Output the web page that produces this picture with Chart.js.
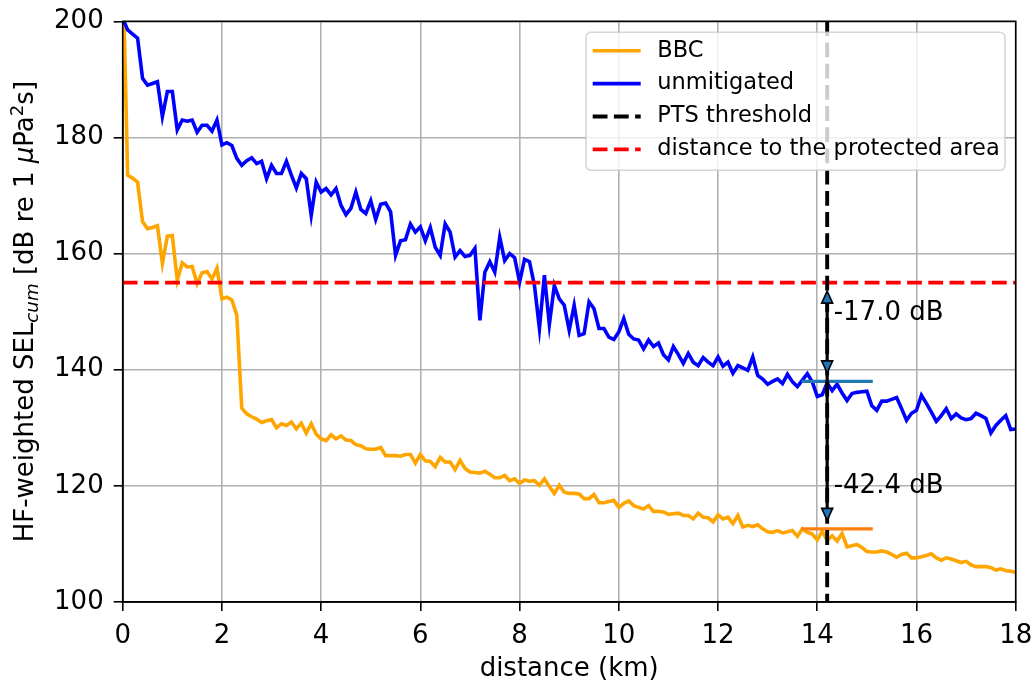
<!DOCTYPE html>
<html><head><meta charset="utf-8">
<script src="https://cdn.jsdelivr.net/npm/chart.js@4.4.1/dist/chart.umd.min.js"></script>
<style>html,body{margin:0;padding:0;background:#fff;} #c{display:block;}</style>
</head><body>
<canvas id="c" width="1034" height="685"></canvas>
<script>
const distanceKm = [
0,0.1,0.2,0.3,0.4,0.5,0.6,0.7,0.8,0.9,
1,1.1,1.2,1.3,1.4,1.5,1.6,1.7,1.8,1.9,
2,2.1,2.2,2.3,2.4,2.5,2.6,2.7,2.8,2.9,
3,3.1,3.2,3.3,3.4,3.5,3.6,3.7,3.8,3.9,
4,4.1,4.2,4.3,4.4,4.5,4.6,4.7,4.8,4.9,
5,5.1,5.2,5.3,5.4,5.5,5.6,5.7,5.8,5.9,
6,6.1,6.2,6.3,6.4,6.5,6.6,6.7,6.8,6.9,
7,7.1,7.2,7.3,7.4,7.5,7.6,7.7,7.8,7.9,
8,8.1,8.2,8.3,8.4,8.5,8.6,8.7,8.8,8.9,
9,9.1,9.2,9.3,9.4,9.5,9.6,9.7,9.8,9.9,
10,10.1,10.2,10.3,10.4,10.5,10.6,10.7,10.8,10.9,
11,11.1,11.2,11.3,11.4,11.5,11.6,11.7,11.8,11.9,
12,12.1,12.2,12.3,12.4,12.5,12.6,12.7,12.8,12.9,
13,13.1,13.2,13.3,13.4,13.5,13.6,13.7,13.8,13.9,
14,14.1,14.2,14.3,14.4,14.5,14.6,14.7,14.8,14.9,
15,15.1,15.2,15.3,15.4,15.5,15.6,15.7,15.8,15.9,
16,16.1,16.2,16.3,16.4,16.5,16.6,16.7,16.8,16.9,
17,17.1,17.2,17.3,17.4,17.5,17.6,17.7,17.8,17.9,
18];

const bbcSEL = [
210,173.5,173.0,172.3,165.5,164.3,164.5,164.8,158.3,163.0,
163.1,155.4,158.4,157.7,157.8,154.8,156.7,156.9,155.6,157.5,
152.2,152.5,152.0,149.4,133.4,132.4,131.9,131.5,130.9,131.2,
131.4,130.0,130.7,130.4,131.0,129.8,130.8,129.1,130.7,128.9,
128.1,127.8,128.8,128.1,128.6,127.9,127.8,127.1,126.9,126.4,
126.3,126.3,126.6,125.2,125.2,125.2,125.1,125.4,125.4,123.9,
125.4,124.3,124.2,123.3,124.9,124.1,124.1,122.8,124.4,123.0,
122.4,122.3,122.2,122.5,122.0,121.4,121.4,121.8,120.9,121.2,
120.4,121.0,120.8,120.9,120.1,121.2,119.9,118.7,120.1,118.9,
118.7,118.7,118.6,117.8,117.8,118.5,117.1,117.1,117.3,117.5,
116.3,117.0,117.4,116.6,116.3,116.0,116.6,115.6,115.6,115.5,
115.1,115.2,115.3,114.9,114.9,114.3,115.3,114.6,114.5,113.8,
115.0,114.3,114.6,113.5,114.9,112.9,113.2,113.0,113.3,112.6,
112.1,112.0,112.3,111.9,112.1,112.3,111.3,112.6,112.0,111.7,
110.7,112.2,110.6,111.4,110.5,111.8,109.5,109.7,109.9,109.4,
108.7,108.6,108.6,108.8,108.6,108.2,107.7,108.2,108.4,107.6,
107.6,107.8,108.0,108.3,107.6,107.2,107.6,107.4,107.1,106.8,
107.0,106.4,106.1,106.1,106.1,105.9,105.5,105.7,105.4,105.3,
105.1];

const unmitigatedSEL = [
200.5,198.5,197.8,197.1,190.2,189.0,189.3,189.6,183.6,187.9,
187.9,181.3,183.0,182.8,183.0,180.9,182.1,182.1,181.1,183.0,
178.7,179.1,178.6,176.4,175.2,176.0,176.5,175.5,175.9,172.9,
175.2,173.8,173.8,175.9,173.5,171.3,173.8,172.9,166.6,172.3,
170.6,171.2,170.1,171.2,168.3,166.7,167.8,170.6,167.6,166.9,
169.1,165.9,168.5,168.7,167.2,159.7,162.2,162.4,165.1,163.7,
164.6,162.2,164.5,161.1,159.7,165.1,163.7,159.4,160.5,159.5,
159.7,160.9,148.5,156.8,158.6,156.8,162.8,158.8,160.0,159.3,
155.1,159.0,158.6,154.5,147.1,156.3,147.8,154.5,152.2,151.1,
146.8,151.1,145.9,146.2,151.7,150.5,147.1,147.1,145.6,145.2,
146.5,148.8,146.1,145.3,145.1,143.6,145.1,144.0,144.6,142.6,
141.7,144.0,142.6,141.1,142.8,141.3,140.7,142.1,141.3,140.7,
142.2,140.6,141.3,139.4,140.7,140.3,139.9,142.2,139.0,138.4,
137.5,138.0,138.4,137.6,139.2,137.9,137.1,138.2,139.3,137.9,
135.4,135.7,137.7,136.4,137.5,136.0,134.7,135.9,136.1,136.2,
136.3,133.8,133.0,134.6,134.6,134.9,135.2,133.3,131.3,132.5,
133.0,135.6,134.2,132.7,131.1,132.1,133.3,131.6,132.4,131.7,
131.4,131.6,132.5,132.1,131.6,129.1,130.4,131.3,132.1,129.7,
129.8];

const xTickValues = [0,2,4,6,8,10,12,14,16,18];
const yTickValues = [100,120,140,160,180,200];
const ptsDistanceKm = 14.2;
const protectedAreaSEL = 155;
const unmitigatedAtPTS = 138.0;
const bbcAtPTS = 112.6;
const markerSpanKm = [13.68, 15.12];
const reductionLabels = ['-17.0 dB', '-42.4 dB'];
const reductionLabelBaseline = [148.5, 118.7];
const legendLabels = ['BBC', 'unmitigated', 'PTS threshold', 'distance to the protected area'];

const FONT = "'DejaVu Sans', sans-serif";
const TICK_PX = 26;
const DASH = [14.8, 6.4];

function pts(xs, ys) { return xs.map((x, i) => ({x: x, y: ys[i]})); }

const datasets = [
  {label: legendLabels[0], data: pts(distanceKm, bbcSEL), borderColor: '#ffa500', borderWidth: 3.6, order: 6},
  {label: legendLabels[1], data: pts(distanceKm, unmitigatedSEL), borderColor: '#0000ff', borderWidth: 3.6, order: 5},
  {label: legendLabels[3], data: [{x: xTickValues[0], y: protectedAreaSEL}, {x: xTickValues[xTickValues.length-1], y: protectedAreaSEL}], borderColor: '#ff0000', borderWidth: 3.9, borderDash: DASH, order: 4},
  {label: 'unmit-mark', data: [{x: markerSpanKm[0], y: unmitigatedAtPTS}, {x: markerSpanKm[1], y: unmitigatedAtPTS}], borderColor: '#1f77b4', borderWidth: 3.2, order: 3},
  {label: 'bbc-mark', data: [{x: markerSpanKm[0], y: bbcAtPTS}, {x: markerSpanKm[1], y: bbcAtPTS}], borderColor: '#ff7f0e', borderWidth: 3.2, order: 2},
  {label: legendLabels[2], data: [{x: ptsDistanceKm, y: yTickValues[yTickValues.length-1]}, {x: ptsDistanceKm, y: yTickValues[0]}], borderColor: '#000000', borderWidth: 3.9, borderDash: DASH, order: 1}
];
datasets.forEach(d => { d.pointRadius = 0; d.tension = 0; d.fill = false; d.clip = 0; d.borderCapStyle = 'butt'; });

function drawHead(ctx, x, tipY, dir) {
  const len = 12, half = 5.5;
  ctx.beginPath();
  ctx.moveTo(x, tipY);
  ctx.lineTo(x - half, tipY - dir * len);
  ctx.lineTo(x + half, tipY - dir * len);
  ctx.closePath();
  ctx.fillStyle = '#1f77b4';
  ctx.fill();
  ctx.lineWidth = 1.6;
  ctx.strokeStyle = '#000';
  ctx.stroke();
}

const annotPlugin = {
  id: 'annot',
  afterDatasetsDraw(chart) {
    const ctx = chart.ctx, xs = chart.scales.x, ys = chart.scales.y, ca = chart.chartArea;
    const px = xs.getPixelForValue(ptsDistanceKm);
    const shrink = 8.5;
    const yA = ys.getPixelForValue(protectedAreaSEL) + shrink;
    const yB = ys.getPixelForValue(unmitigatedAtPTS) - shrink;
    const yC = ys.getPixelForValue(bbcAtPTS) - shrink;
    ctx.save();
    ctx.strokeStyle = '#000';
    ctx.lineWidth = 3.2;
    ctx.beginPath();
    ctx.moveTo(px, yA + 10);
    ctx.lineTo(px, yC - 10);
    ctx.stroke();
    drawHead(ctx, px, yA, -1);
    drawHead(ctx, px, yB, 1);
    drawHead(ctx, px, yC, 1);
    ctx.fillStyle = '#000';
    ctx.font = TICK_PX + 'px ' + FONT;
    ctx.textAlign = 'left';
    ctx.textBaseline = 'alphabetic';
    reductionLabels.forEach((t, i) => {
      ctx.fillText(t, px + 6.5, ys.getPixelForValue(reductionLabelBaseline[i]));
    });
    ctx.strokeStyle = '#000';
    ctx.lineWidth = 1.6;
    ctx.strokeRect(ca.left, ca.top, ca.right - ca.left, ca.bottom - ca.top);
    ctx.restore();
  },
  afterDraw(chart) {
    const ctx = chart.ctx, ca = chart.chartArea;
    const b = TICK_PX;
    const parts = [
      {t: 'HF-weighted SEL', f: b + 'px ' + FONT, dy: 0},
      {t: 'cum', f: 'italic ' + (b * 0.7) + 'px ' + FONT, dy: 0.2 * b},
      {t: ' [dB re 1 ', f: b + 'px ' + FONT, dy: 0},
      {t: 'μ', f: 'italic ' + b + 'px ' + FONT, dy: 0},
      {t: 'Pa', f: b + 'px ' + FONT, dy: 0},
      {t: '2', f: (b * 0.7) + 'px ' + FONT, dy: -0.38 * b},
      {t: 's]', f: b + 'px ' + FONT, dy: 0}
    ];
    ctx.save();
    let total = 0;
    parts.forEach(p => { ctx.font = p.f; p.w = ctx.measureText(p.t).width; total += p.w; });
    ctx.translate(32.5, (ca.top + ca.bottom) / 2);
    ctx.rotate(-Math.PI / 2);
    ctx.fillStyle = '#000';
    ctx.textAlign = 'left';
    ctx.textBaseline = 'alphabetic';
    let x = -total / 2;
    parts.forEach(p => { ctx.font = p.f; ctx.fillText(p.t, x, p.dy); x += p.w; });
    ctx.restore();

    const lw = 419, lh = 138;
    const L = ca.right - 10.7 - lw, T = ca.top + 11;
    ctx.save();
    ctx.beginPath();
    ctx.roundRect(L, T, lw, lh, 5);
    ctx.fillStyle = 'rgba(255,255,255,0.8)';
    ctx.fill();
    ctx.strokeStyle = 'rgba(204,204,204,0.8)';
    ctx.lineWidth = 1.6;
    ctx.stroke();
    const order = [0, 1, 5, 2];
    ctx.font = '22.5px ' + FONT;
    ctx.textAlign = 'left';
    ctx.textBaseline = 'middle';
    order.forEach((di, i) => {
      const d = datasets[di];
      const y = T + 18.4 + i * 32.9;
      ctx.beginPath();
      ctx.setLineDash(d.borderDash || []);
      ctx.lineWidth = d.borderWidth;
      ctx.strokeStyle = d.borderColor;
      ctx.moveTo(L + 6.7, y);
      ctx.lineTo(L + 54.7, y);
      ctx.stroke();
      ctx.setLineDash([]);
      ctx.fillStyle = '#000';
      ctx.fillText(d.label, L + 71.3, y);
    });
    ctx.restore();
  }
};

new Chart(document.getElementById('c'), {
  type: 'line',
  data: {datasets: datasets},
  options: {
    responsive: false,
    animation: false,
    events: [],
    layout: {autoPadding: false, padding: {left: 0, top: 21.3, right: 18.3, bottom: 0}},
    plugins: {legend: {display: false}, tooltip: {enabled: false}},
    scales: {
      x: {
        type: 'linear', min: xTickValues[0], max: xTickValues[xTickValues.length-1],
        afterBuildTicks: s => { s.ticks = xTickValues.map(v => ({value: v})); },
        afterFit: s => { s.height = 83; },
        ticks: {color: '#000', font: {family: FONT, size: TICK_PX, lineHeight: 1.97}, padding: 0, maxRotation: 0, autoSkip: false},
        grid: {color: '#b0b0b0', lineWidth: 1.6, tickColor: '#000', tickLength: 9, tickWidth: 1.6},
        border: {display: true, color: '#000', width: 1.6},
        title: {display: true, text: 'distance (km)', color: '#000', font: {family: FONT, size: TICK_PX, lineHeight: 1.2}, padding: {top: 0, bottom: 0}}
      },
      y: {
        type: 'linear', min: yTickValues[0], max: yTickValues[yTickValues.length-1],
        afterBuildTicks: s => { s.ticks = yTickValues.map(v => ({value: v})); },
        afterFit: s => { s.width = 122.7; },
        ticks: {color: '#000', font: {family: FONT, size: TICK_PX, lineHeight: 0.5}, padding: 10, autoSkip: false},
        grid: {color: '#b0b0b0', lineWidth: 1.6, tickColor: '#000', tickLength: 9, tickWidth: 1.6},
        border: {display: true, color: '#000', width: 1.6}
      }
    }
  },
  plugins: [annotPlugin]
});
</script>
</body></html>
